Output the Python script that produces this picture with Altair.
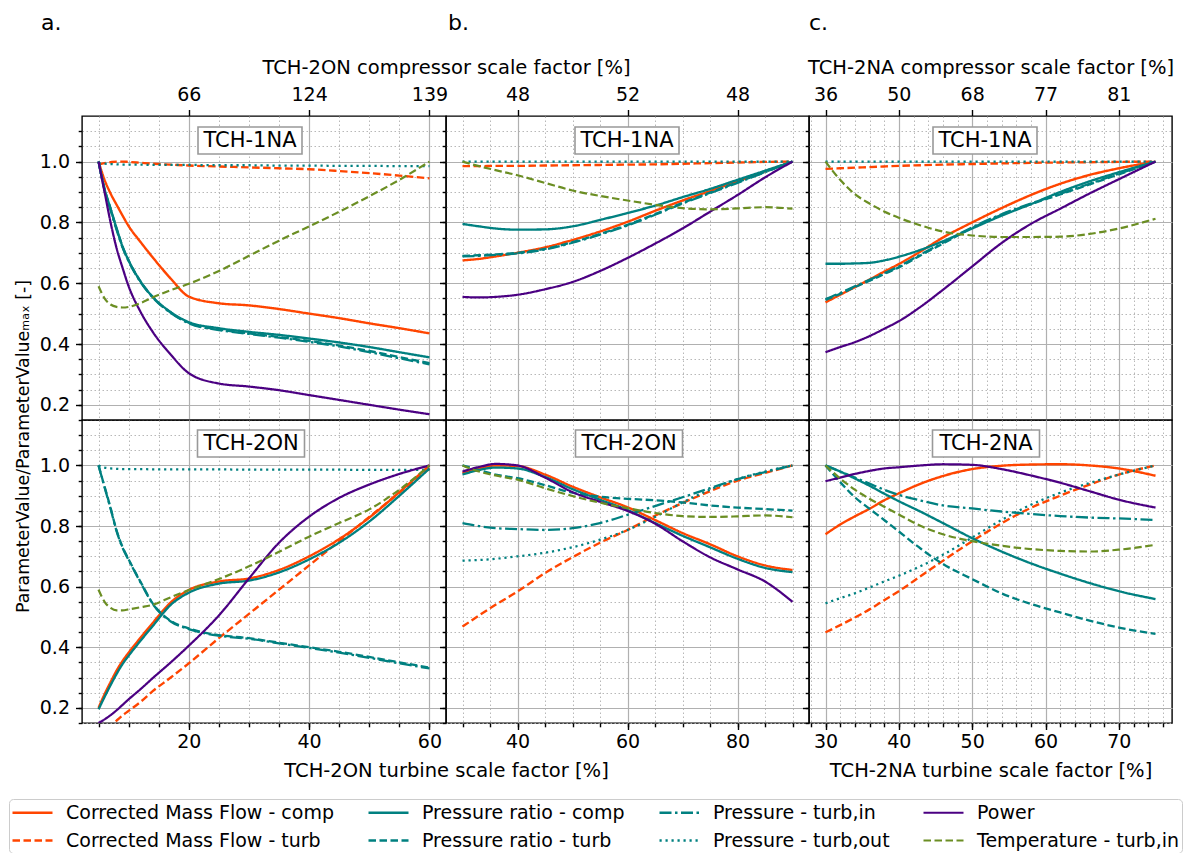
import altair as alt
import pandas as pd

FONT = "DejaVu Sans"
GRID = "#b0b0b0"

# ---------------- series definitions (legend order, filled column by column) ----------------
SERIES = ["Corrected Mass Flow - comp", "Corrected Mass Flow - turb", "Pressure ratio - comp", "Pressure ratio - turb",
          "Pressure - turb,in", "Pressure - turb,out", "Power", "Temperature - turb,in"]
COLORS = ["#ff4500", "#ff4500", "#008080", "#008080", "#008080", "#008080", "#4b0082", "#6b8e23"]
DASHES = [[1, 0], [7.5, 3.5], [1, 0], [7.5, 3.5], [12, 3.5, 2.5, 3.5], [2.2, 3.8], [1, 0], [7.5, 3.5]]
WIDTHS = [2.4, 2.2, 2.6, 2.3, 2.3, 2.5, 1.6, 2.2]

KEYS = ["cmf_comp", "cmf_turb", "pr_comp", "pr_turb", "p_in", "p_out", "power", "temp"]
NAMES = dict(zip(KEYS, SERIES))

# ---------------- column a : TCH-2ON turbine scale factor ----------------
xa = [5, 6, 7, 8, 9, 10, 12, 14, 17, 20, 25, 30, 35, 40, 45, 50, 55, 60]
# row 1 (TCH-1NA)
a1_cmf_comp = [1.0, 0.94, 0.895, 0.858, 0.822, 0.788, 0.735, 0.685, 0.615, 0.556, 0.534, 0.527, 0.515, 0.50, 0.485, 0.468, 0.452, 0.435]
a1_cmf_turb = [0.99, 0.995, 0.998, 1.0, 1.0, 0.999, 0.996, 0.993, 0.99, 0.987, 0.984, 0.981, 0.978, 0.975, 0.969, 0.962, 0.954, 0.945]
a1_pr_comp = [1.0, 0.91, 0.845, 0.78, 0.72, 0.675, 0.605, 0.555, 0.505, 0.472, 0.452, 0.44, 0.43, 0.418, 0.405, 0.39, 0.373, 0.356]
a1_pr_turb = [1.0, 0.91, 0.845, 0.78, 0.72, 0.675, 0.605, 0.555, 0.503, 0.47, 0.448, 0.435, 0.423, 0.41, 0.395, 0.377, 0.357, 0.337]
a1_p_in = [1.0, 0.905, 0.84, 0.775, 0.717, 0.672, 0.603, 0.553, 0.502, 0.468, 0.446, 0.433, 0.421, 0.407, 0.392, 0.373, 0.353, 0.333]
a1_p_out = [0.995, 0.993, 0.992, 0.991, 0.99, 0.99, 0.99, 0.989, 0.989, 0.989, 0.988, 0.988, 0.987, 0.987, 0.986, 0.986, 0.985, 0.985]
a1_power = [1.0, 0.9, 0.8, 0.715, 0.65, 0.59, 0.505, 0.44, 0.365, 0.304, 0.27, 0.26, 0.248, 0.232, 0.216, 0.2, 0.184, 0.169]
a1_temp = [0.59, 0.55, 0.53, 0.522, 0.52, 0.522, 0.535, 0.553, 0.577, 0.598, 0.64, 0.69, 0.74, 0.787, 0.835, 0.886, 0.94, 1.0]
# row 2 (TCH-2ON)
a2_cmf_comp = [0.2, 0.245, 0.285, 0.323, 0.355, 0.382, 0.432, 0.48, 0.548, 0.589, 0.617, 0.627, 0.655, 0.70, 0.757, 0.828, 0.912, 1.0]
a2_cmf_turb = [0.11, 0.125, 0.14, 0.158, 0.175, 0.19, 0.22, 0.255, 0.30, 0.347, 0.43, 0.51, 0.59, 0.67, 0.75, 0.83, 0.91, 0.99]
a2_pr_comp = [0.195, 0.236, 0.275, 0.312, 0.345, 0.372, 0.422, 0.47, 0.54, 0.58, 0.61, 0.62, 0.647, 0.69, 0.745, 0.815, 0.9, 0.99]
a2_pr_turb = [1.0, 0.93, 0.86, 0.785, 0.73, 0.69, 0.615, 0.545, 0.487, 0.462, 0.44, 0.43, 0.415, 0.40, 0.385, 0.368, 0.35, 0.333]
a2_p_in = [1.0, 0.928, 0.857, 0.783, 0.728, 0.688, 0.613, 0.543, 0.485, 0.46, 0.438, 0.428, 0.413, 0.398, 0.382, 0.365, 0.347, 0.33]
a2_p_out = [1.0, 0.993, 0.99, 0.989, 0.988, 0.988, 0.988, 0.987, 0.987, 0.987, 0.987, 0.986, 0.986, 0.986, 0.986, 0.985, 0.985, 0.985]
a2_power = [0.15, 0.162, 0.176, 0.192, 0.21, 0.228, 0.262, 0.298, 0.35, 0.405, 0.505, 0.627, 0.745, 0.831, 0.893, 0.937, 0.972, 1.0]
a2_temp = [0.59, 0.55, 0.53, 0.522, 0.522, 0.525, 0.532, 0.54, 0.565, 0.589, 0.625, 0.667, 0.715, 0.765, 0.81, 0.855, 0.92, 1.0]

# ---------------- column b ----------------
xb = [30, 33, 36, 40, 45, 50, 55, 60, 65, 70, 75, 80, 85, 90]
b1_cmf_comp = [0.675, 0.68, 0.688, 0.70, 0.718, 0.742, 0.77, 0.802, 0.838, 0.872, 0.903, 0.935, 0.968, 1.0]
b1_cmf_turb = [0.985, 0.985, 0.986, 0.986, 0.987, 0.988, 0.989, 0.99, 0.991, 0.993, 0.995, 0.997, 0.999, 1.0]
b1_pr_comp = [0.795, 0.787, 0.78, 0.776, 0.777, 0.787, 0.808, 0.831, 0.855, 0.883, 0.91, 0.94, 0.97, 1.0]
b1_pr_turb = [0.69, 0.692, 0.695, 0.70, 0.713, 0.735, 0.762, 0.792, 0.827, 0.864, 0.898, 0.932, 0.966, 1.0]
b1_p_in = [0.688, 0.69, 0.693, 0.698, 0.711, 0.733, 0.76, 0.79, 0.825, 0.862, 0.896, 0.93, 0.965, 1.0]
b1_p_out = [1.0, 1.0, 1.0, 1.0, 1.0, 1.0, 1.0, 1.0, 1.0, 1.0, 1.0, 1.0, 1.0, 1.0]
b1_power = [0.555, 0.553, 0.555, 0.562, 0.58, 0.604, 0.64, 0.683, 0.73, 0.78, 0.835, 0.89, 0.948, 1.0]
b1_temp = [1.0, 0.985, 0.972, 0.955, 0.93, 0.905, 0.887, 0.872, 0.858, 0.847, 0.843, 0.846, 0.85, 0.845]

b2_cmf_comp = [0.975, 0.99, 1.0, 0.998, 0.97, 0.93, 0.895, 0.862, 0.82, 0.777, 0.74, 0.70, 0.67, 0.655]
b2_cmf_turb = [0.468, 0.505, 0.54, 0.584, 0.645, 0.697, 0.745, 0.787, 0.834, 0.876, 0.915, 0.95, 0.975, 1.0]
b2_pr_comp = [0.97, 0.985, 0.993, 0.99, 0.962, 0.922, 0.887, 0.853, 0.81, 0.768, 0.73, 0.692, 0.662, 0.648]
b2_pr_turb = [1.0, 0.985, 0.97, 0.958, 0.935, 0.91, 0.897, 0.89, 0.885, 0.878, 0.868, 0.861, 0.856, 0.851]
b2_p_in = [0.81, 0.8, 0.793, 0.79, 0.787, 0.793, 0.81, 0.837, 0.866, 0.895, 0.925, 0.955, 0.978, 1.0]
b2_p_out = [0.686, 0.688, 0.692, 0.70, 0.712, 0.73, 0.755, 0.787, 0.83, 0.878, 0.92, 0.955, 0.98, 1.0]
b2_power = [0.98, 0.995, 1.005, 1.0, 0.96, 0.912, 0.88, 0.85, 0.808, 0.75, 0.697, 0.657, 0.617, 0.55]
b2_temp = [1.0, 0.98, 0.967, 0.953, 0.925, 0.899, 0.877, 0.859, 0.843, 0.833, 0.83, 0.832, 0.835, 0.829]

# ---------------- column c : TCH-2NA turbine scale factor ----------------
xc = [30, 32, 34, 36, 38, 40, 43, 46, 50, 54, 58, 62, 66, 70, 75]
c1_cmf_comp = [0.537, 0.562, 0.587, 0.612, 0.638, 0.663, 0.705, 0.75, 0.8, 0.847, 0.89, 0.927, 0.956, 0.978, 1.0]
c1_cmf_turb = [0.976, 0.978, 0.98, 0.982, 0.984, 0.986, 0.988, 0.99, 0.992, 0.994, 0.996, 0.997, 0.998, 0.999, 1.0]
c1_pr_comp = [0.664, 0.664, 0.665, 0.667, 0.675, 0.687, 0.71, 0.738, 0.78, 0.822, 0.86, 0.9, 0.935, 0.965, 1.0]
c1_pr_turb = [0.545, 0.565, 0.587, 0.608, 0.63, 0.652, 0.692, 0.73, 0.782, 0.825, 0.86, 0.892, 0.925, 0.958, 1.0]
c1_p_in = [0.548, 0.568, 0.59, 0.611, 0.633, 0.655, 0.695, 0.733, 0.784, 0.827, 0.862, 0.894, 0.927, 0.96, 1.0]
c1_p_out = [1.0, 1.0, 1.0, 1.0, 1.0, 1.0, 1.0, 1.0, 1.0, 1.0, 1.0, 1.0, 1.0, 1.0, 1.0]
c1_power = [0.373, 0.39, 0.406, 0.426, 0.45, 0.475, 0.523, 0.578, 0.655, 0.732, 0.795, 0.845, 0.895, 0.942, 1.0]
c1_temp = [1.0, 0.94, 0.893, 0.862, 0.836, 0.815, 0.79, 0.77, 0.757, 0.752, 0.752, 0.753, 0.762, 0.78, 0.812]

c2_cmf_comp = [0.773, 0.805, 0.832, 0.857, 0.885, 0.908, 0.94, 0.965, 0.988, 0.999, 1.003, 1.004, 1.0, 0.99, 0.966]
c2_cmf_turb = [0.449, 0.473, 0.498, 0.525, 0.555, 0.585, 0.635, 0.685, 0.75, 0.809, 0.86, 0.9, 0.937, 0.97, 1.0]
c2_pr_comp = [1.0, 0.98, 0.957, 0.933, 0.907, 0.882, 0.847, 0.81, 0.76, 0.716, 0.677, 0.643, 0.612, 0.585, 0.559]
c2_pr_turb = [1.0, 0.945, 0.895, 0.857, 0.82, 0.782, 0.725, 0.675, 0.625, 0.578, 0.543, 0.515, 0.488, 0.465, 0.444]
c2_p_in = [1.0, 0.98, 0.96, 0.94, 0.92, 0.903, 0.884, 0.868, 0.858, 0.848, 0.84, 0.833, 0.828, 0.825, 0.82]
c2_p_out = [0.545, 0.562, 0.578, 0.597, 0.617, 0.636, 0.668, 0.705, 0.762, 0.82, 0.87, 0.91, 0.942, 0.97, 1.0]
c2_power = [0.948, 0.96, 0.972, 0.982, 0.99, 0.994, 1.0, 1.004, 1.002, 0.988, 0.967, 0.943, 0.915, 0.887, 0.861]
c2_temp = [1.0, 0.957, 0.92, 0.89, 0.864, 0.838, 0.8, 0.773, 0.75, 0.735, 0.724, 0.718, 0.716, 0.722, 0.738]

# ---------------- axes: ticks and labels ----------------
Y_MAJOR = [0.2, 0.4, 0.6, 0.8, 1.0]
Y_MINOR = [0.15, 0.2, 0.25, 0.3, 0.35, 0.4, 0.45, 0.5, 0.55, 0.6, 0.65, 0.7, 0.75, 0.8, 0.85, 0.9, 0.95, 1.0, 1.05, 1.1]
XA_MAJOR = [20, 40, 60]
XA_MINOR = [5, 10, 15, 20, 25, 30, 35, 40, 45, 50, 55, 60]
XB_MAJOR = [40, 60, 80]
XB_MINOR = [30, 35, 40, 45, 50, 55, 60, 65, 70, 75, 80, 85, 90]
XC_MAJOR = [30, 40, 50, 60, 70]
XC_MINOR = [28, 30, 32, 34, 36, 38, 40, 42, 44, 46, 48, 50, 52, 54, 56, 58, 60, 62, 64, 66, 68, 70, 72, 74, 76]
TOP_A_LABELS = ["66", "124", "139"]
TOP_B_LABELS = ["48", "52", "48"]
TOP_C_LABELS = ["36", "50", "68", "77", "81"]

YS = alt.Scale(domain=[0.15, 1.15], nice=False, zero=False)

# legend line symbol: a 40px stroke drawn from a 20px symbol slot
LEG = alt.Legend(title=None, orient="none", legendX=-73, legendY=683, columns=4, columnPadding=29,
                 rowPadding=6, symbolType="M-1,0H3", symbolSize=400, symbolFillColor="transparent",
                 labelFontSize=19, labelFont=FONT,
                 labelOffset=32, padding=2, strokeColor="#cccccc", fillColor="white", cornerRadius=4,
                 labelLimit=500, labelColor="black")


def frame(xs, lists):
    rows = []
    for k in KEYS:
        for x, y in zip(xs, lists[k]):
            rows.append({"x": x, "y": y, "series": NAMES[k]})
    return pd.DataFrame(rows)


def label_expr(vals, labels):
    expr = "''"
    for v, l in zip(reversed(vals), reversed(labels)):
        expr = f"datum.value == {v} ? '{l}' : ({expr})"
    return expr


def panel(df, xdom, xmaj, xmin, row, col, width, height, box_text, box_cx, box_w, letter=None,
          top_labels=None, top_title=None, top_title_x=None, bottom_title=None, bottom_title_x=None):
    xs = alt.Scale(domain=xdom, nice=False, zero=False)
    base = alt.Chart(df)
    is_bottom = row == 2

    minor = base.mark_line(opacity=0).encode(
        x=alt.X("x:Q", scale=xs, title=None,
                axis=alt.Axis(orient="bottom", values=xmin, grid=True, gridDash=[1.5, 2.5], gridColor=GRID,
                              gridWidth=0.9, labels=False, ticks=is_bottom, tickSize=3.8, domain=False)),
        y=alt.Y("y:Q", scale=YS, title=None,
                axis=alt.Axis(orient="left", values=Y_MINOR, grid=True, gridDash=[1.5, 2.5], gridColor=GRID,
                              gridWidth=0.9, labels=False, ticks=True, tickSize=3.8, domain=False)),
        detail="series:N")

    xaxis_kw = dict(orient="bottom", values=xmaj, grid=True, gridColor=GRID, gridWidth=1.2,
                    labels=is_bottom, ticks=is_bottom, tickSize=6.5, labelPadding=2.5, domain=False,
                    titlePadding=10, titleFontSize=19.5)
    if bottom_title_x is not None:
        xaxis_kw["titleX"] = bottom_title_x
    yaxis_kw = dict(orient="left", values=Y_MAJOR, grid=True, gridColor=GRID, gridWidth=1.2,
                    labels=(col == 0), ticks=True, tickSize=6.5, labelPadding=6, format=".1f", domain=False)
    ytitle = None
    if col == 0 and row == 1:
        ytitle = "ParameterValue/ParameterValueₘₐₓ [-]"
        yaxis_kw["titleY"] = 330
        yaxis_kw["titleX"] = -50
        yaxis_kw["titleFontSize"] = 17.4
    major = base.mark_line(opacity=0).encode(
        x=alt.X("x:Q", scale=xs, title=bottom_title, axis=alt.Axis(**xaxis_kw)),
        y=alt.Y("y:Q", scale=YS, title=ytitle, axis=alt.Axis(**yaxis_kw)),
        detail="series:N")
    layers = [minor, major]

    if top_labels is not None:
        top_kw = dict(orient="top", values=xmaj, grid=False, labels=True, ticks=True, tickSize=6.5,
                      labelPadding=5.5, domain=False, labelExpr=label_expr(xmaj, top_labels), titlePadding=7.4,
                      titleFontSize=19.5)
        if top_title_x is not None:
            top_kw["titleX"] = top_title_x
        top = base.mark_line(opacity=0).encode(
            x=alt.X("x:Q", scale=xs, title=top_title, axis=alt.Axis(**top_kw)),
            y=alt.Y("y:Q", scale=YS, axis=None),
            detail="series:N")
        layers.append(top)

    lines = base.mark_line(clip=True, interpolate="monotone").encode(
        x=alt.X("x:Q", scale=xs, axis=None),
        y=alt.Y("y:Q", scale=YS, axis=None),
        color=alt.Color("series:N", scale=alt.Scale(domain=SERIES, range=COLORS), legend=LEG),
        strokeDash=alt.StrokeDash("series:N", scale=alt.Scale(domain=SERIES, range=DASHES), legend=LEG),
        strokeWidth=alt.StrokeWidth("series:N", scale=alt.Scale(domain=SERIES, range=WIDTHS), legend=LEG),
    )
    layers.append(lines)

    y0 = 11 if row == 1 else 10
    lab = alt.Chart(pd.DataFrame({"label": [box_text]}))
    box = lab.mark_rect(fill="white", stroke="#999999", strokeWidth=1.6).encode(
        x=alt.value(box_cx - box_w / 2), x2=alt.value(box_cx + box_w / 2),
        y=alt.value(y0), y2=alt.value(y0 + 27))
    txt = lab.mark_text(font=FONT, fontSize=21, color="black", baseline="middle", align="center").encode(
        x=alt.value(box_cx), y=alt.value(y0 + 14), text="label:N")
    layers += [box, txt]

    if letter is not None:
        let = alt.Chart(pd.DataFrame({"t": [letter[0]]})).mark_text(
            font=FONT, fontSize=22, color="black", align="left", baseline="alphabetic").encode(
            x=alt.value(letter[1]), y=alt.value(-86), text="t:N")
        layers.append(let)

    return alt.layer(*layers).resolve_axis(x="independent", y="independent").properties(
        width=width, height=height)


def lists(prefix):
    g = globals()
    return {k: g[f"{prefix}_{k}"] for k in KEYS}


XA_DOM = [2.25, 62.75]
XB_DOM = [27, 93]
XC_DOM = [27.75, 77.25]

a1 = panel(frame(xa, lists("a1")), XA_DOM, XA_MAJOR, XA_MINOR, 1, 0, 364, 304, "TCH-1NA", 168, 104,
           letter=("a.", -41), top_labels=TOP_A_LABELS, top_title="TCH-2ON compressor scale factor [%]",
           top_title_x=364)
b1 = panel(frame(xb, lists("b1")), XB_DOM, XB_MAJOR, XB_MINOR, 1, 1, 363, 304, "TCH-1NA", 181, 104,
           letter=("b.", 2), top_labels=TOP_B_LABELS)
c1 = panel(frame(xc, lists("c1")), XC_DOM, XC_MAJOR, XC_MINOR, 1, 2, 363, 304, "TCH-1NA", 176, 104,
           letter=("c.", 0), top_labels=TOP_C_LABELS, top_title="TCH-2NA compressor scale factor [%]")
a2 = panel(frame(xa, lists("a2")), XA_DOM, XA_MAJOR, XA_MINOR, 2, 0, 364, 303, "TCH-2ON", 169, 107,
           bottom_title="TCH-2ON turbine scale factor [%]", bottom_title_x=364)
b2 = panel(frame(xb, lists("b2")), XB_DOM, XB_MAJOR, XB_MINOR, 2, 1, 363, 303, "TCH-2ON", 183, 107)
c2 = panel(frame(xc, lists("c2")), XC_DOM, XC_MAJOR, XC_MINOR, 2, 2, 363, 303, "TCH-2NA", 177, 107,
           bottom_title="TCH-2NA turbine scale factor [%]")

chart = alt.concat(
    a1, b1, c1, a2, b2, c2, columns=3, spacing=0, bounds="flush",
    padding={"left": 0, "top": 3, "right": 0, "bottom": 0},
).configure_view(
    stroke="black", strokeWidth=1.4
).configure_axis(
    labelFont=FONT, titleFont=FONT, labelFontSize=19, titleFontSize=19, titleFontWeight="normal",
    labelColor="black", titleColor="black", tickColor="black", tickWidth=1.4
).configure_text(font=FONT)

chart.save("out.html", embed_options={"renderer": "svg", "actions": False})
